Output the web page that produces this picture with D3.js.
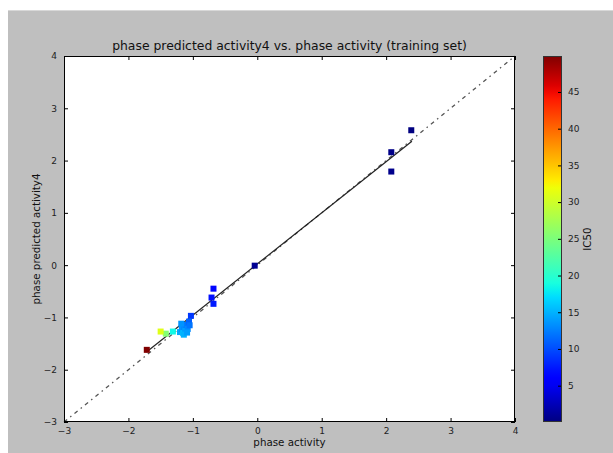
<!DOCTYPE html>
<html>
<head>
<meta charset="utf-8">
<script src="https://cdn.jsdelivr.net/npm/d3@7"></script>
<style>
  html, body { margin: 0; padding: 0; background: #fff; }
  svg { display: block; font-family: "DejaVu Sans", sans-serif; }
</style>
</head>
<body>
<div id="chart"></div>
<script>
// observed activity, predicted activity, IC50 of each compound
const actual = [2.39, 2.08, 2.08, -0.04, -0.68, -0.71, -0.68, -1.03,
  -1.20, -1.17, -1.15, -1.13, -1.12, -1.10, -1.08, -1.06, -1.05, -1.18, -1.14, -1.09,
  -1.31, -1.42, -1.50, -1.715];
const predicted = [2.58, 2.16, 1.79, -0.01, -0.45, -0.62, -0.74, -0.97,
  -1.28, -1.22, -1.30, -1.18, -1.25, -1.14, -1.22, -1.08, -1.15, -1.12, -1.33, -1.29,
  -1.27, -1.31, -1.27, -1.62];
const ic50 = [0.05, 0.4, 0.6, 0.9, 6.5, 7.0, 7.5, 9.0,
  14.5, 13.5, 15.5, 12.5, 14.0, 12.0, 13.0, 11.0, 12.0, 13.5, 15.0, 14.0,
  18.5, 25.5, 31.0, 49.9];

// least-squares fit drawn over the points
const fitX = [-1.72, 2.40];
const fitY = [-1.66, 2.37];

const axisTicks = [-3, -2, -1, 0, 1, 2, 3, 4];
const barTicks = [5, 10, 15, 20, 25, 30, 35, 40, 45];

const W = 613, H = 453;
const box = {left: 64, right: 515, top: 56, bottom: 422};
const bar = {left: 543, right: 562};

// matplotlib "jet"
const jr = d3.scaleLinear().domain([0, 0.35, 0.66, 0.89, 1]).range([0, 0, 1, 1, 0.5]).clamp(true);
const jg = d3.scaleLinear().domain([0, 0.125, 0.375, 0.64, 0.91, 1]).range([0, 0, 1, 1, 0, 0]).clamp(true);
const jb = d3.scaleLinear().domain([0, 0.11, 0.34, 0.65, 1]).range([0.5, 1, 1, 0, 0]).clamp(true);
const jet = t => d3.rgb(jr(t) * 255, jg(t) * 255, jb(t) * 255).formatHex();

const cdom = d3.extent(ic50);
const cnorm = d3.scaleLinear().domain(cdom).range([0, 1]);

const svg = d3.select("#chart").append("svg").attr("width", W).attr("height", H);

// window frame
svg.append("rect").attr("x", 8).attr("y", 10).attr("width", W - 8).attr("height", H - 10).attr("fill", "#bfbfbf");
svg.append("line").attr("x1", 8).attr("x2", W).attr("y1", 10.5).attr("y2", 10.5).attr("stroke", "#d8d8d8");

const x = d3.scaleLinear().domain([-3, 4]).range([box.left, box.right]);
const y = d3.scaleLinear().domain([-3, 4]).range([box.bottom, box.top]);

svg.append("rect").attr("x", box.left).attr("y", box.top)
  .attr("width", box.right - box.left).attr("height", box.bottom - box.top).attr("fill", "#fff");

const plot = svg.append("g");

// identity line
plot.append("line")
  .attr("x1", x(-3)).attr("y1", y(-3)).attr("x2", x(4)).attr("y2", y(4))
  .attr("stroke", "#555").attr("stroke-width", 1.3).attr("stroke-dasharray", "4,4,1.5,4");

plot.append("line")
  .attr("x1", x(fitX[0])).attr("y1", y(fitY[0])).attr("x2", x(fitX[1])).attr("y2", y(fitY[1]))
  .attr("stroke", "#222").attr("stroke-width", 1.2);

const pts = actual.map((a, i) => ({a: a, p: predicted[i], c: ic50[i]}));
plot.selectAll(".pt").data(pts).enter().append("rect")
  .attr("class", "pt")
  .attr("x", d => x(d.a) - 3).attr("y", d => y(d.p) - 3)
  .attr("width", 6).attr("height", 6)
  .attr("fill", d => jet(cnorm(d.c)));

// frame and ticks on all sides, pointing inwards
svg.append("rect").attr("x", box.left + 0.5).attr("y", box.top + 0.5)
  .attr("width", box.right - box.left - 1).attr("height", box.bottom - box.top - 1)
  .attr("fill", "none").attr("stroke", "#000").attr("stroke-width", 1);

function styleAxis(g) {
  g.select(".domain").remove();
  g.selectAll(".tick line").attr("stroke", "#000");
  g.selectAll(".tick text").attr("font-size", 9).attr("fill", "#222")
    .attr("font-family", "DejaVu Sans, sans-serif");
}
const fmt = d => d < 0 ? "\u2212" + Math.abs(d) : String(d);

svg.append("g").attr("transform", `translate(0,${box.bottom})`)
  .call(d3.axisBottom(x).tickValues(axisTicks).tickFormat(fmt).tickSizeInner(-4).tickPadding(6))
  .call(styleAxis);
svg.append("g").attr("transform", `translate(0,${box.top})`)
  .call(d3.axisTop(x).tickValues(axisTicks).tickFormat("").tickSizeInner(-4))
  .call(styleAxis);
svg.append("g").attr("transform", `translate(${box.left},0)`)
  .call(d3.axisLeft(y).tickValues(axisTicks).tickFormat(fmt).tickSizeInner(-4).tickPadding(7))
  .call(styleAxis);
svg.append("g").attr("transform", `translate(${box.right},0)`)
  .call(d3.axisRight(y).tickValues(axisTicks).tickFormat("").tickSizeInner(-4))
  .call(styleAxis);

svg.append("text").attr("x", (box.left + box.right) / 2).attr("y", 50)
  .attr("text-anchor", "middle").attr("font-size", 12.4).attr("fill", "#111")
  .text("phase predicted activity4 vs. phase activity (training set)");
svg.append("text").attr("x", (box.left + box.right) / 2).attr("y", 446)
  .attr("text-anchor", "middle").attr("font-size", 10.3).attr("fill", "#111")
  .text("phase activity");
svg.append("text").attr("transform", `translate(40,${(box.top + box.bottom) / 2}) rotate(-90)`)
  .attr("text-anchor", "middle").attr("font-size", 10.3).attr("fill", "#111")
  .text("phase predicted activity4");

// colour bar
const cy = d3.scaleLinear().domain(cdom).range([box.bottom, box.top]);
const grad = svg.append("defs").append("linearGradient").attr("id", "jetGrad")
  .attr("x1", "0%").attr("x2", "0%").attr("y1", "100%").attr("y2", "0%");
grad.selectAll("stop").data(d3.range(0, 1.0001, 0.02)).enter().append("stop")
  .attr("offset", d => (d * 100) + "%").attr("stop-color", d => jet(d));
svg.append("rect").attr("x", bar.left).attr("y", box.top)
  .attr("width", bar.right - bar.left).attr("height", box.bottom - box.top)
  .attr("fill", "url(#jetGrad)");
svg.append("g").attr("transform", `translate(${bar.right},0)`)
  .call(d3.axisRight(cy).tickValues(barTicks).tickSizeInner(-4).tickPadding(6))
  .call(styleAxis);
svg.append("rect").attr("x", bar.left + 0.5).attr("y", box.top + 0.5)
  .attr("width", bar.right - bar.left - 1).attr("height", box.bottom - box.top - 1)
  .attr("fill", "none").attr("stroke", "#333");
svg.append("text").attr("transform", `translate(591,${(box.top + box.bottom) / 2}) rotate(-90)`)
  .attr("text-anchor", "middle").attr("font-size", 10.3).attr("fill", "#111")
  .text("IC50");
</script>
</body>
</html>
